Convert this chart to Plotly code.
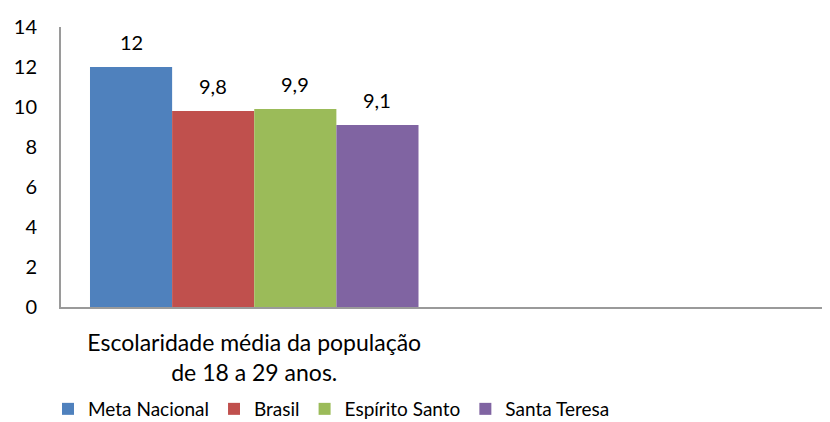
import plotly.graph_objects as go

category_label = "Escolaridade média da população<br>de 18 a 29 anos."
series_names = ["Meta Nacional", "Brasil", "Espírito Santo", "Santa Teresa"]
series_values = [12, 9.8, 9.9, 9.1]
series_colors = ["#4F81BD", "#C0504D", "#9BBB59", "#8064A2"]
y_ticks = [0, 2, 4, 6, 8, 10, 12, 14]

FONT = "Lato, sans-serif"
FS = 19
BARGAP = 0.15

def fmt(v):
    return ("%g" % v).replace(".", ",")

fig = go.Figure()
n = len(series_values)
bw = (1 - BARGAP) / n
for i, (name, val, col) in enumerate(zip(series_names, series_values, series_colors)):
    fig.add_trace(go.Bar(
        x=[0], y=[val], name=name,
        marker=dict(color=col, line=dict(width=0)),
    ))
    fig.add_annotation(
        x=-(1 - BARGAP) / 2 + bw * (i + 0.5), y=val, xref="x", yref="y",
        text=fmt(val), showarrow=False, yanchor="bottom", yshift=11,
        font=dict(family=FONT, size=20, color="#000000"),
    )

fig.update_layout(
    width=830, height=422,
    margin=dict(l=53, r=4, t=19, b=123, autoexpand=False),
    plot_bgcolor="white", paper_bgcolor="white",
    barmode="group", bargap=BARGAP, bargroupgap=0,
    font=dict(family=FONT, size=FS, color="#000000"),
    showlegend=True,
    legend=dict(orientation="h", xref="container", x=40 / 830, xanchor="left",
                yref="container", y=2 / 422, yanchor="bottom",
                font=dict(family=FONT, size=FS), itemwidth=30, tracegroupgap=0),
    xaxis=dict(range=[-0.5, 1.5], tickvals=[0], ticktext=[category_label],
               showline=True, linecolor="#9A9A9A", linewidth=2, showgrid=False,
               zeroline=False, ticks="", ticklabelstandoff=14, automargin=False,
               tickfont=dict(family=FONT, size=23)),
    yaxis=dict(range=[0, 14], tickvals=y_ticks, showline=True, linecolor="#9A9A9A",
               linewidth=2, showgrid=False, zeroline=False, ticks="", automargin=False,
               tickfont=dict(family=FONT, size=20), ticklabelstandoff=18),
)

fig.write_html("out.html")
